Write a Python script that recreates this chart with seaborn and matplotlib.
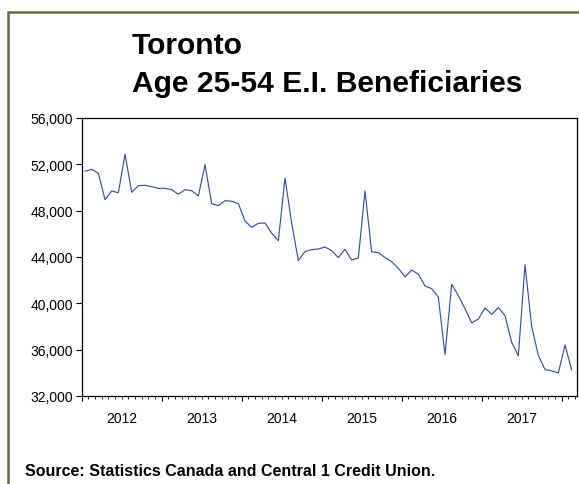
import numpy as np
import pandas as pd
import matplotlib
matplotlib.use("Agg")
import matplotlib.pyplot as plt
from matplotlib.patches import Rectangle
from matplotlib.ticker import FuncFormatter
import seaborn as sns

# Monthly E.I. beneficiaries, Toronto, age 25-54 (Jan 2012 - Feb 2018)
years = [2012, 2013, 2014, 2015, 2016, 2017]
beneficiaries = [
    51400, 51570, 51230, 48950, 49700, 49550, 52890, 49590, 50160, 50190, 50070, 49930,  # 2012
    49930, 49810, 49410, 49810, 49720, 49270, 51970, 48600, 48430, 48860, 48810, 48600,  # 2013
    47110, 46560, 46910, 46940, 46050, 45410, 50820, 46900, 43700, 44460, 44630, 44690,  # 2014
    44860, 44550, 43950, 44670, 43740, 43920, 49700, 44440, 44380, 43950, 43600, 43030,  # 2015
    42280, 42880, 42510, 41500, 41270, 40530, 35570, 41650, 40670, 39530, 38320, 38640,  # 2016
    39610, 39040, 39640, 38930, 36640, 35470, 43320, 38010, 35500, 34280, 34160, 33990,  # 2017
    36400, 34250,                                                                        # 2018
]
y_ticks = [32000, 36000, 40000, 44000, 48000, 52000, 56000]

# months since Jan 2012, plotted at mid-month
df = pd.DataFrame({
    "month": np.arange(len(beneficiaries)) + 0.5,
    "value": beneficiaries,
})

sns.set_style("ticks")
plt.rcParams["font.family"] = ["Liberation Sans", "DejaVu Sans"]
plt.rcParams["text.color"] = "black"
plt.rcParams["xtick.color"] = "black"
plt.rcParams["ytick.color"] = "black"

fig = plt.figure(figsize=(5.79, 4.85), dpi=100)
ax = fig.add_axes([81.7 / 579, 1 - 397 / 485, (577 - 81.7) / 579, (397 - 119) / 485])

sns.lineplot(data=df, x="month", y="value", ax=ax, color="#3352AE", linewidth=0.85)

# year boundaries as long ticks, months as short ticks, labels centred in each year
ax.set_xticks(np.arange(0, 12 * len(years) + 1, 12))
ax.set_xticks(np.arange(0, 75, 1), minor=True)
ax.tick_params(axis="x", which="major", direction="out", length=3.5, width=0.8,
               labelbottom=False)
ax.tick_params(axis="x", which="minor", direction="out", length=1.8, width=0.6)

ax.set_yticks(y_ticks)
ax.yaxis.set_major_formatter(FuncFormatter(lambda v, p: f"{int(v):,}"))
ax.tick_params(axis="y", direction="out", length=4, width=0.8, labelsize=10, pad=2.5)

ax.set_xlim(0, 74.3)
ax.set_ylim(y_ticks[0], y_ticks[-1])

sec = ax.secondary_xaxis("bottom")
sec.set_xticks([12 * i + 6 for i in range(len(years))])
sec.set_xticklabels([str(y) for y in years], fontsize=10)
sec.tick_params(length=0, pad=11)
sec.spines["bottom"].set_visible(False)

for s in ax.spines.values():
    s.set_visible(True)
    s.set_color("black")
    s.set_linewidth(0.9)

ax.set_xlabel("")
ax.set_ylabel("")

fig.text(132 / 579, 1 - 53.5 / 485, "Toronto",
         fontsize=21.6, fontweight="bold", ha="left", va="baseline")
fig.text(132 / 579, 1 - 92 / 485, "Age 25-54 E.I. Beneficiaries",
         fontsize=21.6, fontweight="bold", ha="left", va="baseline")
fig.text(25 / 579, 1 - 476 / 485, "Source: Statistics Canada and Central 1 Credit Union.",
         fontsize=11.5, fontweight="bold", ha="left", va="baseline")

# olive frame running off the right and bottom edges
fig.patches.append(Rectangle((8 / 579, -0.2), 1.5, 1.2 - 13 / 485,
                             transform=fig.transFigure, fill=False,
                             edgecolor="#6B6A3A", linewidth=1.8))

fig.savefig("out.png", dpi=100)
